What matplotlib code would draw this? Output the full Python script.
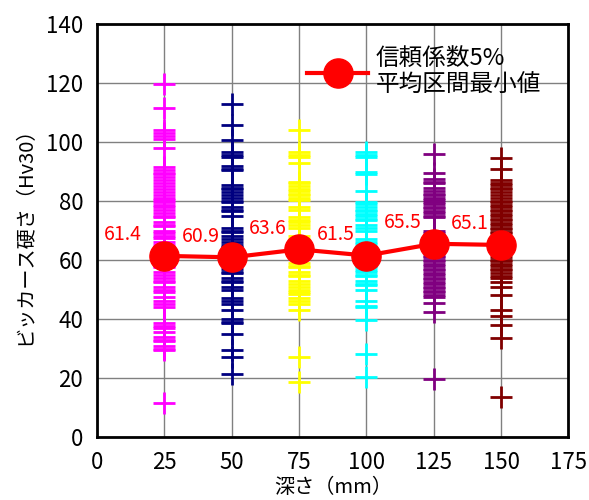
import matplotlib
matplotlib.use("Agg")
import matplotlib.pyplot as plt

plt.rcParams['font.family'] = ['Noto Sans CJK JP', 'DejaVu Sans']

# depth groups (mm)
depths = [25, 50, 75, 100, 125, 150]
colors = ['#FF00FF', '#000080', '#FFFF00', '#00FFFF', '#800080', '#800000']

# individual hardness readings (Hv30) per depth
d25 = [119.5, 111.5, 104, 103, 102, 101, 98, 91.5, 90.5, 89.5, 89, 88, 87, 86, 85,
       84, 83, 82, 81, 80.5, 79.5, 78.5, 78, 77, 76, 75, 74.5, 73, 72, 71.5, 70, 69,
       68, 67.5, 66, 65, 64.5, 63, 62, 61.5, 60, 59, 58, 57.5, 56, 55, 54, 53,
       52.5, 51, 50, 49, 47.5, 46, 45, 44, 38.5, 37.5, 37, 35.5, 34, 33, 32.5, 31,
       30, 29.5, 11.5]
d50 = [113, 105.8, 100.7, 96.5, 95.5, 95, 92, 91, 90.5, 85.5, 84.5, 84, 83, 82, 81,
       80, 79.5, 78, 77, 76.5, 75, 71, 70, 69.5, 68, 67, 66, 65, 64.5, 63.5, 63,
       62, 61.5, 60, 59, 58.5, 57, 56, 55.5, 54, 53, 52.5, 51, 50, 47, 46, 45, 43,
       40, 39, 38.5, 35, 29.5, 27, 21.5]
d75 = [104, 96.5, 95.5, 95, 93, 86.5, 86, 85, 84, 83.5, 82.5, 82, 81, 80.5, 78, 77,
       74.5, 73.5, 73, 72, 71, 68, 67, 66.5, 65, 64, 63.5, 62, 61, 59, 58, 57.5, 56,
       55, 54.5, 53, 52, 51, 50, 49, 48.5, 47, 46, 45, 43, 27, 18.5]
d100 = [96.5, 95.5, 95, 90, 89, 83.5, 79.5, 79, 78, 77, 76.5, 75.5, 75, 74, 73.5, 72,
        71, 70, 67, 66, 65.5, 64.5, 64, 63, 62.5, 61, 60, 59, 58, 57.5, 56.5, 56,
        55, 54.5, 53, 52, 51.5, 50, 46, 44.5, 44, 39.5, 28, 20.5]
d125 = [96, 89.5, 87.5, 86.5, 86, 84.5, 83.5, 82.5, 82, 81, 80.5, 79.5, 79, 78, 77.5,
        76.5, 76, 75, 74.5, 70, 69, 68.5, 67.5, 67, 66, 65.5, 64.5, 64, 63, 62.5,
        61.5, 61, 60, 59.5, 58.5, 58, 57, 56.5, 55.5, 55, 54, 53.5, 52.5, 52, 51,
        50.5, 49.5, 49, 48, 47.5, 45.5, 42.5, 19.5]
d150 = [94.5, 91, 87, 86, 85.5, 84.5, 84, 83, 82, 81, 80, 79.5, 78.5, 78, 77, 76.5,
        75.5, 75, 74, 73.5, 72.5, 72, 71, 70.5, 69.5, 69, 61, 60, 59.5, 58.5, 58,
        57, 56.5, 55.5, 54.5, 54, 52.5, 51, 48, 43, 41, 38, 33.5, 13.5]
readings = [d25, d50, d75, d100, d125, d150]

# lower limit of mean, 5% confidence
min_mean = [61.4, 60.9, 63.6, 61.5, 65.5, 65.1]
min_labels = ['61.4', '60.9', '63.6', '61.5', '65.5', '65.1']

fig = plt.figure(figsize=(5.89, 5.0), dpi=100)
ax = fig.add_axes([0.165, 0.126, 0.800, 0.826])

for x, vals, c in zip(depths, readings, colors):
    ax.plot([x] * len(vals), vals, linestyle='none', marker='+', color=c,
            markersize=16.5, markeredgewidth=2, zorder=3)

ax.plot(depths, min_mean, color='#FF0000', linewidth=3, marker='o',
        markersize=21, label='信頼係数5%\n平均区間最小値', zorder=4)

for i, (x, y, t) in enumerate(zip(depths, min_mean, min_labels)):
    dx = -42 if i == 0 else -31
    ax.annotate(t, (x, y), xytext=(dx, 21), textcoords='offset pixels',
                ha='center', va='center', color='#FF0000', fontsize=14, zorder=5)

ax.set_xlim(0, 175)
ax.set_ylim(0, 140)
ax.set_xticks(range(0, 176, 25))
ax.set_yticks(range(0, 141, 20))
ax.grid(True, color='#808080', linewidth=1)
ax.set_axisbelow(True)
ax.tick_params(length=0, labelsize=16, pad=10)
for s in ax.spines.values():
    s.set_linewidth(2)
    s.set_color('black')

ax.set_xlabel('深さ（mm）', fontsize=14.5, labelpad=2)
ax.set_ylabel('ビッカース硬さ（Hv30）', fontsize=14.5, labelpad=8)

ax.legend(loc='upper left', bbox_to_anchor=(0.40, 0.995), frameon=False,
          fontsize=17, handlelength=2.6, handletextpad=0.3, labelspacing=0.2)

fig.savefig('out.png', dpi=100)
